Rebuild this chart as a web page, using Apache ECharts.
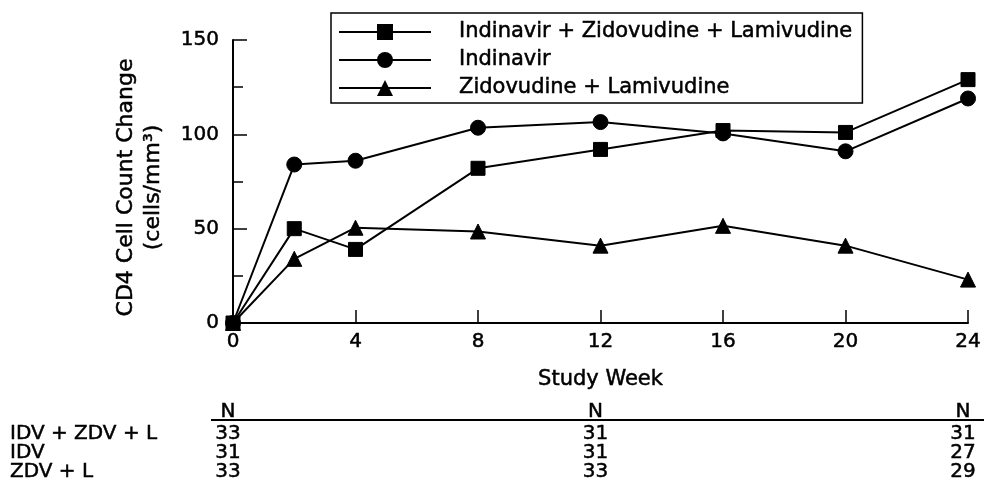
<!DOCTYPE html>
<html>
<head>
<meta charset="utf-8">
<script src="https://cdn.jsdelivr.net/npm/echarts@6/dist/echarts.min.js"></script>
<style>
html,body{margin:0;padding:0;background:#fff;}
#chart{width:984px;height:493px;}
</style>
</head>
<body>
<div id="chart"></div>
<script>
// ---- data ----
const weeks = [0, 2, 4, 8, 12, 16, 20, 24];
const idvZdvL = [0, 50, 39, 82, 92, 102, 101, 129];
const idv = [0, 84, 86, 103.5, 106.5, 100.5, 91, 119];
const zdvL = [0, 34, 50.5, 48.5, 41, 51.5, 41, 23];
const seriesNames = ['Indinavir + Zidovudine + Lamivudine', 'Indinavir', 'Zidovudine + Lamivudine'];
const xTicks = [0, 4, 8, 12, 16, 20, 24];
const yTicks = [0, 50, 100, 150];

// N table
const nWeeks = [0, 12, 24];
const nGroups = ['IDV + ZDV + L', 'IDV', 'ZDV + L'];
const nIdvZdvL = [33, 31, 31];
const nIdv = [31, 31, 27];
const nZdvL = [33, 33, 29];

const FONT = '"DejaVu Sans", "Liberation Sans", Arial, sans-serif';
const TB = 0.5; // slight text thickening to match scanned print
const chart = echarts.init(document.getElementById('chart'), null, {renderer: 'canvas', width: 984, height: 493});

function pairs(vals) { return weeks.map((w, i) => [w, vals[i]]); }

function lineSeries(name, vals, symbol, size, z) {
  return {
    name: name,
    type: 'line',
    data: pairs(vals),
    symbol: symbol,
    symbolSize: size,
    showSymbol: true,
    z: z,
    lineStyle: {color: '#000', width: 2},
    itemStyle: {color: '#000', borderColor: '#000'},
    emphasis: {disabled: true}
  };
}

const txt = (size, extra) => Object.assign({fontFamily: FONT, fontSize: size, color: '#000', textBorderColor: '#000', textBorderWidth: TB}, extra || {});

chart.setOption({
  animation: false,
  backgroundColor: '#fff',
  textStyle: {fontFamily: FONT, color: '#000'},
  grid: {left: 233, right: 13, top: 40, bottom: 170, containLabel: false},
  legend: {
    orient: 'vertical',
    left: 331,
    top: 13,
    padding: [8, 10, 4, 7],
    itemWidth: 92,
    itemHeight: 20,
    itemGap: 6,
    borderColor: '#000',
    borderWidth: 1.5,
    backgroundColor: '#fff',
    data: seriesNames,
    textStyle: txt(21, {padding: [0, 0, 0, 23], lineHeight: 22})
  },
  xAxis: {
    type: 'value',
    min: xTicks[0],
    max: xTicks[xTicks.length - 1],
    interval: 4,
    axisLine: {show: true, onZero: false, lineStyle: {color: '#000', width: 2}},
    axisTick: {show: true, inside: true, length: 13, lineStyle: {color: '#000', width: 1.5}},
    axisLabel: txt(20, {margin: 9}),
    splitLine: {show: false},
    name: 'Study Week',
    nameLocation: 'middle',
    nameGap: 46,
    nameTextStyle: txt(21)
  },
  yAxis: {
    type: 'value',
    min: yTicks[0],
    max: yTicks[yTicks.length - 1],
    interval: 50,
    axisLine: {show: true, onZero: false, lineStyle: {color: '#000', width: 2}},
    axisTick: {show: true, inside: true, length: 14, lineStyle: {color: '#000', width: 1.5}},
    minorTick: {show: true, splitNumber: 2, length: 10, lineStyle: {color: '#000', width: 1.5}},
    minorSplitLine: {show: false},
    axisLabel: txt(20, {margin: 14}),
    splitLine: {show: false},
    name: 'CD4 Cell Count Change\n(cells/mm³)',
    nameLocation: 'middle',
    nameRotate: 90,
    nameGap: 66,
    nameTextStyle: txt(22, {lineHeight: 27, align: 'center', padding: [0, 12, 0, 0]})
  },
  series: [
    lineSeries(seriesNames[0], idvZdvL, 'rect', 14, 4),
    lineSeries(seriesNames[1], idv, 'circle', 15, 3),
    lineSeries(seriesNames[2], zdvL, 'triangle', 15, 2)
  ]
});

// N table drawn under the x axis, columns positioned with the x axis scale
const px = w => chart.convertToPixel({xAxisIndex: 0}, w);
const cols = [nIdvZdvL, nIdv, nZdvL];
const tfont = '20px ' + FONT;
const headerY = 412;
const lineY = 420;
const rowY = [434, 453, 472];
const tstyle = (text, x, y, align) => ({text: text, x: x, y: y, font: tfont, fill: '#000', stroke: '#000', lineWidth: TB, align: align, verticalAlign: 'middle'});
const g = [];
g.push({type: 'line', shape: {x1: px(nWeeks[0]) - 22, y1: lineY, x2: 984, y2: lineY}, style: {stroke: '#000', lineWidth: 2}, silent: true});
nWeeks.forEach((w, j) => {
  const x = px(w) - 5;
  g.push({type: 'text', style: tstyle('N', x, headerY, 'center'), silent: true});
  cols.forEach((c, i) => {
    g.push({type: 'text', style: tstyle(String(c[j]), x, rowY[i], 'center'), silent: true});
  });
});
nGroups.forEach((name, i) => {
  g.push({type: 'text', style: tstyle(name, 10, rowY[i], 'left'), silent: true});
});
chart.setOption({graphic: g});
</script>
</body>
</html>
